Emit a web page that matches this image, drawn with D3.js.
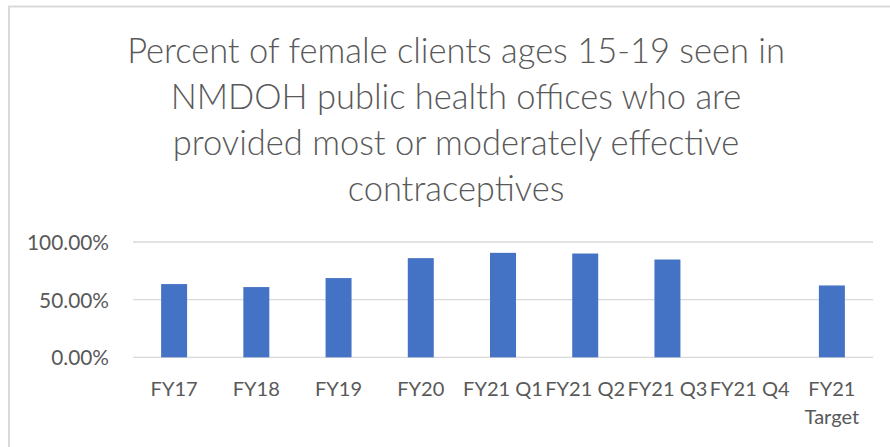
<!DOCTYPE html>
<html>
<head>
<meta charset="utf-8">
<script src="https://cdn.jsdelivr.net/npm/d3@7"></script>
<style>
  html, body { margin: 0; padding: 0; background: #fff; }
  svg { display: block; }
  text { font-family: Lato, "Open Sans", sans-serif; fill: #595959; }
</style>
</head>
<body>
<svg id="chart" width="890" height="447"></svg>
<script>
const titleLines = [
  "Percent of female clients ages 15-19 seen in",
  "NMDOH public health offices who are",
  "provided most or moderately effective",
  "contraceptives"
];
const categories = ["FY17", "FY18", "FY19", "FY20", "FY21 Q1", "FY21 Q2", "FY21 Q3", "FY21 Q4", "FY21 Target"];
const values = [0.635, 0.609, 0.687, 0.860, 0.906, 0.900, 0.848, null, 0.623];
const yTicks = [0, 0.5, 1.0];

const svg = d3.select("#chart");
const W = 890, H = 447;
const margin = { left: 133, right: 17, top: 242, bottom: 90 };

// chart frame (top + left edge visible)
svg.append("path")
  .attr("d", "M9,447 L9,6.5 L890,6.5")
  .attr("fill", "none").attr("stroke", "#d9d9d9").attr("stroke-width", 2);

const x = d3.scaleBand().domain(categories)
  .range([margin.left, W - margin.right]).paddingInner(0.684).paddingOuter(0.342);
const y = d3.scaleLinear().domain([0, 1]).range([357.3, 242]);

// helper: fit font-size to reference width
function fitSize(sample, targetW, base, weight) {
  const t = svg.append("text").attr("font-size", base).attr("font-weight", weight || 400).text(sample);
  const w = t.node().getComputedTextLength();
  t.remove();
  return base * targetW / w;
}

// Title
const titleSize = fitSize(titleLines[0], 658, 30, 300);
const title = svg.append("g");
titleLines.forEach((ln, i) => {
  title.append("text")
    .attr("x", 456).attr("y", 63 + i * 46)
    .attr("text-anchor", "middle")
    .attr("font-size", titleSize)
    .attr("font-weight", 300)
    .text(ln);
});

// Gridlines
svg.append("g").selectAll("line").data(yTicks).join("line")
  .attr("x1", margin.left).attr("x2", W - margin.right)
  .attr("y1", d => y(d)).attr("y2", d => y(d))
  .attr("stroke", "#d9d9d9").attr("stroke-width", 1.3);

// Y axis labels
const tickSize = fitSize("100.00%", 82, 20);
const yAxis = d3.axisLeft(y).tickValues(yTicks).tickFormat(d3.format(".2%")).tickSize(0).tickPadding(24);
const gy = svg.append("g").attr("transform", `translate(${margin.left},0)`).call(yAxis);
gy.select(".domain").remove();
gy.selectAll("text").attr("font-size", tickSize).attr("font-family", null).attr("fill", "#595959").attr("dy", "0.36em");

// Bars
svg.append("g").selectAll("rect").data(categories.map((c, i) => ({ c, v: values[i] })).filter(d => d.v != null))
  .join("rect")
  .attr("x", d => x(d.c)).attr("width", x.bandwidth())
  .attr("y", d => y(d.v)).attr("height", d => y(0) - y(d.v))
  .attr("fill", "#4472c4");

// X axis labels
const xSize = fitSize("FY21 Q1", 80, 20);
const xl = svg.append("g");
categories.forEach(c => {
  const cx = x(c) + x.bandwidth() / 2;
  const t = xl.append("text").attr("text-anchor", "middle").attr("font-size", xSize).attr("x", cx).attr("y", 395.5);
  const tw = (() => { const tt = svg.append("text").attr("font-size", xSize).text(c); const w = tt.node().getComputedTextLength(); tt.remove(); return w; })();
  if (tw > x.step() + 4 && c.indexOf("Target") >= 0) {
    const parts = c.split(" ");
    t.append("tspan").attr("x", cx).text(parts[0]);
    t.append("tspan").attr("x", cx).attr("dy", 28).text(parts.slice(1).join(" "));
  } else {
    t.text(c);
  }
});
</script>
</body>
</html>
